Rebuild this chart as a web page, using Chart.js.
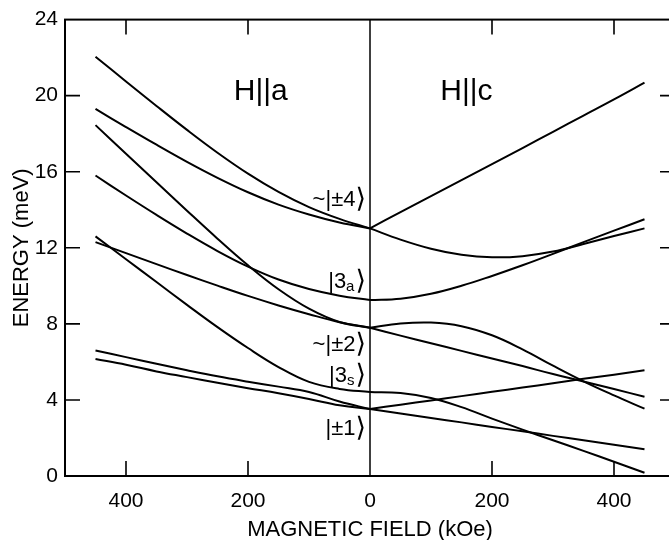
<!DOCTYPE html>
<html>
<head>
<meta charset="utf-8">
<script src="https://cdn.jsdelivr.net/npm/chart.js@4.4.1/dist/chart.umd.min.js"></script>
<style>
html,body{margin:0;padding:0;background:#fff;overflow:hidden;width:669px;height:540px;}
canvas{display:block;}
</style>
</head>
<body>
<canvas id="c" width="700" height="540"></canvas>
<script>
// ---- data (kOe, meV) ----
const fieldLeft  = [-450,-400,-350,-300,-250,-200,-150,-100,-50,0];   // H || a (shown to the left)
const fieldRight = [0,50,100,150,200,250,300,350,400,450];             // H || c

// H || a branches
const aPm4Upper = [22.05,20.75,19.46,18.2,17.0,15.9,14.94,14.14,13.52,13.02];
const aPm4Lower = [19.3,18.35,17.42,16.52,15.68,14.92,14.27,13.75,13.33,13.02];
const aPm2Steep = [18.45,16.95,15.45,13.95,12.48,11.08,9.82,8.8,8.1,7.8];
const a3a       = [15.8,14.75,13.73,12.75,11.83,11.01,10.33,9.83,9.48,9.25];
const a3s       = [12.6,11.4,10.2,9.0,7.83,6.73,5.73,4.95,4.58,4.42];
const aPm2Flat  = [12.3,11.72,11.14,10.57,10.01,9.47,8.97,8.51,8.09,7.8];
const aPm1Upper = [6.6,6.25,5.9,5.56,5.24,4.96,4.7,4.42,3.92,3.52];
const aPm1Lower = [6.15,5.85,5.5,5.2,4.9,4.62,4.35,4.05,3.72,3.52];

// H || c branches
const cPm4Up    = [13.02,13.88,14.72,15.56,16.4,17.24,18.1,18.95,19.8,20.68];
const cPm4Dip   = [13.02,12.43,11.95,11.63,11.5,11.56,11.8,12.2,12.62,13.02];
const c3a       = [9.25,9.32,9.58,10.0,10.52,11.08,11.68,12.3,12.9,13.5];
const cPm2Hump  = [7.8,8.02,8.07,7.88,7.4,6.66,5.8,4.98,4.24,3.54];
const cPm2Down  = [7.8,7.38,6.98,6.58,6.18,5.78,5.36,4.97,4.57,4.17];
const c3s       = [4.42,4.36,4.1,3.62,3.02,2.44,1.88,1.32,0.75,0.17];
const cPm1Up    = [3.52,3.75,3.97,4.2,4.43,4.65,4.88,5.11,5.33,5.56];
const cPm1Down  = [3.52,3.29,3.05,2.82,2.58,2.35,2.11,1.88,1.64,1.41];

const xTickValues = [-400,-200,0,200,400];
const yTickValues = [0,4,8,12,16,20,24];

const xTitle = 'MAGNETIC FIELD (kOe)';
const yTitle = 'ENERGY (meV)';

// state labels at zero field: [text, subscript, energy]
const stateLabels = [
  ['~|±4', '', 14.53],
  ['|3', 'a', 10.2],
  ['~|±2', '', 6.88],
  ['|3', 's', 5.26],
  ['|±1', '', 2.45]
];
const panelLabels = [['H||a', -179, 20.2], ['H||c', 158, 20.2]];

// ---- build datasets ----
const leftSeries  = [aPm4Upper,aPm4Lower,aPm2Steep,a3a,a3s,aPm2Flat,aPm1Upper,aPm1Lower];
const rightSeries = [cPm4Up,cPm4Dip,c3a,cPm2Hump,cPm2Down,c3s,cPm1Up,cPm1Down];
function mk(xs, ys){ return { data: xs.map((x,i)=>({x:x,y:ys[i]})), borderColor:'#000', borderWidth:2, pointRadius:0, fill:false, tension:0.4 }; }
const datasets = leftSeries.map(s=>mk(fieldLeft,s)).concat(rightSeries.map(s=>mk(fieldRight,s)));

const FONT = "'Liberation Sans', 'DejaVu Sans', Arial, sans-serif";

const framePlugin = {
  id: 'frame',
  afterDatasetsDraw(chart){
    const ctx = chart.ctx, a = chart.chartArea, xs = chart.scales.x, ys = chart.scales.y;
    ctx.save();
    ctx.strokeStyle = '#000';
    ctx.lineWidth = 2;
    ctx.strokeRect(a.left, a.top, a.right - a.left, a.bottom - a.top);
    // zero-field line
    ctx.lineWidth = 1.5;
    const x0 = xs.getPixelForValue(0);
    ctx.beginPath(); ctx.moveTo(x0, a.top); ctx.lineTo(x0, a.bottom); ctx.stroke();
    // inward ticks
    const L = 15;
    ctx.lineWidth = 1.6;
    xTickValues.forEach(v => {
      if (v === 0) return;
      const px = xs.getPixelForValue(v);
      ctx.beginPath();
      ctx.moveTo(px, a.bottom); ctx.lineTo(px, a.bottom - L);
      ctx.moveTo(px, a.top); ctx.lineTo(px, a.top + L);
      ctx.stroke();
    });
    yTickValues.forEach(v => {
      if (v === 0 || v === 24) return;
      const py = ys.getPixelForValue(v);
      ctx.beginPath();
      ctx.moveTo(a.left, py); ctx.lineTo(a.left + L, py);
      ctx.moveTo(a.right, py); ctx.lineTo(a.right - L, py);
      ctx.stroke();
    });
    // state labels
    ctx.fillStyle = '#000';
    ctx.textBaseline = 'middle';
    ctx.textAlign = 'left';
    const rightX = x0 - 4;
    const big = "22px " + FONT, small = "15px " + FONT, brk = "27px 'DejaVu Sans', " + FONT;
    const close = '⟩';
    stateLabels.forEach(([t, sub, e]) => {
      const py = ys.getPixelForValue(e);
      ctx.font = brk; const wClose = ctx.measureText(close).width;
      ctx.font = small; const wSub = sub ? ctx.measureText(sub).width + 1 : 0;
      ctx.font = big; const wMain = ctx.measureText(t).width;
      let x = rightX - wClose - wSub - wMain;
      ctx.font = big; ctx.fillText(t, x, py); x += wMain;
      if (sub) { ctx.font = small; ctx.fillText(sub, x, py + 5); x += wSub; }
      ctx.font = brk; ctx.fillText(close, x, py);
    });
    ctx.font = "30px " + FONT;
    ctx.textAlign = 'center';
    panelLabels.forEach(([t, xv, yv]) => {
      ctx.fillText(t, xs.getPixelForValue(xv), ys.getPixelForValue(yv));
    });
    ctx.restore();
  }
};

new Chart(document.getElementById('c'), {
  type: 'line',
  data: { datasets: datasets },
  plugins: [framePlugin],
  options: {
    responsive: false,
    animation: false,
    events: [],
    layout: { padding: { top: 15, right: 25, left: 0, bottom: 0 } },
    plugins: { legend: { display: false }, tooltip: { enabled: false } },
    scales: {
      x: {
        type: 'linear', min: -500, max: 500,
        afterBuildTicks: s => { s.ticks = xTickValues.map(v => ({ value: v })); },
        afterFit: s => { s.height = 64; },
        grid: { display: false, drawTicks: false },
        border: { display: false },
        ticks: { color: '#000', font: { family: FONT, size: 21 }, padding: 13, maxRotation: 0, autoSkip: false,
                 callback: v => String(Math.abs(v)) },
        title: { display: true, text: xTitle, color: '#000', font: { family: FONT, size: 22 }, padding: { top: 0, bottom: -3 } }
      },
      y: {
        type: 'linear', min: 0, max: 24,
        afterBuildTicks: s => { s.ticks = yTickValues.map(v => ({ value: v })); },
        afterFit: s => { s.width = 65; },
        grid: { display: false, drawTicks: false },
        border: { display: false },
        ticks: { color: '#000', font: { family: FONT, size: 21 }, padding: 7 },
        title: { display: true, text: yTitle, color: '#000', font: { family: FONT, size: 22 }, padding: { top: 9, bottom: 0 } }
      }
    }
  }
});
</script>
</body>
</html>
